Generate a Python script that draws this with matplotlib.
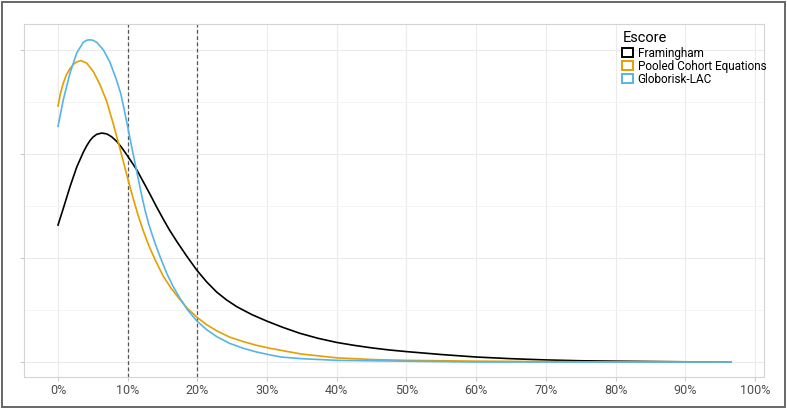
import matplotlib.pyplot as plt
from matplotlib.patches import Patch, Rectangle

plt.rcParams['font.family'] = ['Roboto', 'DejaVu Sans']

# risk score (%) and estimated density
fram_x = [0, 0.76, 1.72, 2.68, 3.63, 4.1, 4.59, 5.0, 5.55, 6.27, 7.0, 7.7, 8.42,
          9.1, 9.86, 10.5, 11.29, 12.2, 13.2, 14.1, 15.11, 16.0, 17.03, 18.4,
          19.9, 21.3, 22.77, 24.2, 25.64, 27.8, 30, 32.3, 34.7, 37.3, 40, 42.5,
          45, 47.5, 50, 55, 60, 65, 70, 75, 80, 90, 96.5]
fram_y = [0.0329, 0.0369, 0.0421, 0.0468, 0.0504, 0.0519, 0.0532, 0.0540, 0.0547,
          0.0550, 0.0548, 0.0541, 0.0530, 0.0516, 0.0498, 0.0482, 0.0462, 0.0434,
          0.0403, 0.0374, 0.0343, 0.0317, 0.0290, 0.0256, 0.0221, 0.0193, 0.0168,
          0.0149, 0.0133, 0.0114, 0.0098, 0.0083, 0.0069, 0.0057, 0.0047, 0.0040,
          0.0034, 0.0029, 0.0025, 0.0018, 0.0012, 0.0008, 0.0005, 0.0003, 0.0002,
          0.00005, 0.0]

pce_x = [0, 0.35, 0.76, 1.2, 1.72, 2.2, 2.68, 3.3, 4.12, 5.06, 6.03, 6.99, 7.93,
         8.90, 9.86, 10.80, 11.5, 12.24, 13.0, 13.92, 15.11, 16.2, 17.26, 18.5,
         19.9, 21.3, 22.77, 24.6, 26.59, 28.5, 30.42, 32, 35, 40, 45, 50, 60, 70,
         80, 96.5]
pce_y = [0.0615, 0.0645, 0.0670, 0.0690, 0.0705, 0.0715, 0.0721, 0.0724, 0.0718,
         0.0698, 0.0666, 0.0626, 0.0572, 0.0512, 0.0450, 0.0392, 0.0352, 0.0315,
         0.0281, 0.0246, 0.0206, 0.0178, 0.0155, 0.0130, 0.0108, 0.0090, 0.0075,
         0.0060, 0.0049, 0.0040, 0.0033, 0.0028, 0.0019, 0.0010, 0.0006, 0.0004,
         0.0002, 0.0001, 0.0, 0.0]

glob_x = [0, 0.76, 1.72, 2.68, 3.63, 4.1, 4.59, 5.0, 5.55, 6.5, 7.46, 8.42, 9.0,
          9.5, 10.0, 10.5, 11.0, 11.5, 12.0, 12.5, 13.0, 13.67, 14.3, 14.88, 15.6,
          16.5, 17.5, 18.6, 19.9, 21.3, 22.77, 24.6, 26.59, 28.5, 30.42, 32, 35,
          40, 50, 60, 96.5]
glob_y = [0.0566, 0.0630, 0.0694, 0.0742, 0.0768, 0.0773, 0.0774, 0.0773, 0.0768,
          0.0750, 0.0720, 0.0676, 0.0645, 0.0606, 0.0565, 0.0523, 0.0482, 0.0441,
          0.0401, 0.0364, 0.0332, 0.0298, 0.0268, 0.0243, 0.0213, 0.0182, 0.0153,
          0.0125, 0.0099, 0.0078, 0.0061, 0.0045, 0.0033, 0.0024, 0.0017, 0.0012,
          0.0008, 0.0004, 0.0002, 0.0, 0.0]

labels = ['Framingham', 'Pooled Cohort Equations', 'Globorisk-LAC']
colors = ['#000000', '#E69F00', '#56B4E9']
cutoffs = [10, 20]
xticks = list(range(0, 101, 10))

fig = plt.figure(figsize=(7.87, 4.09), dpi=100)
fig.patches.append(Rectangle((0.003, 0.004), 0.994, 0.992, transform=fig.transFigure,
                             fill=False, edgecolor='#666666', linewidth=1.4))

ax = fig.add_axes([24 / 787, 32 / 409, 740 / 787, 353 / 409])
ax.set_xlim(-4.88, 101.3)
ax.set_ylim(-0.0036, 0.0812)

# grid
ax.set_xticks(xticks)
ax.set_xticklabels([f'{t}%' for t in xticks])
ax.set_yticks([0, 0.025, 0.05, 0.075])
ax.set_yticks([0.0125, 0.0375, 0.0625], minor=True)
ax.set_yticklabels([])
ax.grid(True, which='major', color='#ebebeb', linewidth=0.8)
ax.grid(True, which='minor', axis='y', color='#f3f3f3', linewidth=0.6)
ax.set_axisbelow(True)
for s in ax.spines.values():
    s.set_color('#d4d4d4')
    s.set_linewidth(0.8)
ax.tick_params(axis='both', which='major', length=3, color='#cccccc',
               labelsize=9, labelcolor='#4d4d4d', pad=2)
ax.tick_params(axis='y', which='minor', length=0)

for c in cutoffs:
    ax.axvline(c, color='#555555', linestyle=(0, (3, 2)), linewidth=0.9)

for xs, ys, col in zip([fram_x, pce_x, glob_x], [fram_y, pce_y, glob_y], colors):
    ax.plot(xs, ys, color=col, linewidth=1.2, solid_joinstyle='round')

handles = [Patch(facecolor='white', edgecolor=c, linewidth=1.4) for c in colors]
leg = fig.legend(handles, labels, title='Escore', loc='upper left',
                 bbox_to_anchor=(614 / 787, 1 - 23 / 409), frameon=False,
                 fontsize=8.5, title_fontsize=10.5, handlelength=0.9, handleheight=0.8,
                 handletextpad=0.4, labelspacing=0.0, borderpad=0.2)
leg._legend_box.align = 'left'
leg._legend_box.sep = 1

fig.savefig('out.png', dpi=100)
